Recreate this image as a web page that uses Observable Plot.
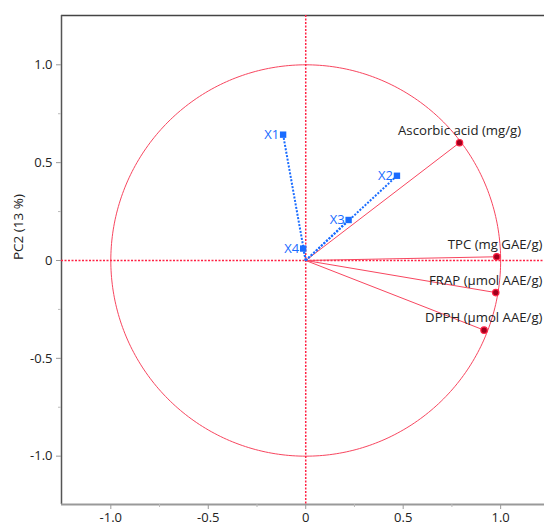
<!DOCTYPE html>
<html>
<head>
<meta charset="utf-8">
<script src="https://cdn.jsdelivr.net/npm/d3@7"></script>
<script src="https://cdn.jsdelivr.net/npm/@observablehq/plot@0.6"></script>
<style>
  body { margin: 0; background: #fff; }
  #chart { width: 544px; height: 525px; }
</style>
</head>
<body>
<div id="chart"></div>
<script>
// Response variables (loadings on PC1 / PC2)
const variables = ["Ascorbic acid (mg/g)", "TPC (mg GAE/g)", "FRAP (µmol AAE/g)", "DPPH (µmol AAE/g)"];
const varPC1 = [0.789, 0.980, 0.975, 0.915];
const varPC2 = [0.602, 0.019, -0.164, -0.356];

// Factors projected as supplementary variables
const factors = ["X1", "X2", "X3", "X4"];
const facPC1 = [-0.116, 0.468, 0.220, -0.013];
const facPC2 = [0.643, 0.433, 0.207, 0.061];

// Axis ticks
const majorTicks = [-1, -0.5, 0, 0.5, 1];
const minorTicks = [-0.75, -0.25, 0.25, 0.75];
const yTitle = "PC2 (13 %)";

const W = 544, H = 525;
const M = {left: 61, right: 0, top: 15, bottom: 21};
const xDomain = [-1.253, 1.225];
const yDomain = [-1.247, 1.252];
const FONT = "'Open Sans', sans-serif";
const LABEL_SIZE = 13.2;

const varRows = variables.map((name, i) => ({name, x: varPC1[i], y: varPC2[i]}));
const facRows = factors.map((name, i) => ({name, x: facPC1[i], y: facPC2[i]}));

// Unit correlation circle
const circle = d3.range(0, 361).map(a => ({x: Math.cos(a * Math.PI / 180), y: Math.sin(a * Math.PI / 180)}));

// Keep variable labels inside the right edge of the frame
const ctx = document.createElement("canvas").getContext("2d");
ctx.font = `${LABEL_SIZE}px ${FONT}`;
const pxPerUnit = (W - M.left - M.right) / (xDomain[1] - xDomain[0]);
const labelRows = varRows.map(d => {
  const half = ctx.measureText(d.name).width / 2;
  const maxX = xDomain[1] - (half + 2) / pxPerUnit;
  return {...d, lx: Math.min(d.x, maxX)};
});

const tick = d => d === 0 ? "0" : d.toFixed(1);
const red = "#f8465f";
const dotRed = "#ff2244";
const blue = "#1a6cff";

const chart = Plot.plot({
  width: W,
  height: H,
  marginLeft: M.left,
  marginRight: M.right,
  marginTop: M.top,
  marginBottom: M.bottom,
  style: {fontFamily: FONT, fontSize: "12px", background: "#fff", color: "#222"},
  x: {domain: xDomain},
  y: {domain: yDomain},
  marks: [
    // frame
    Plot.ruleY([yDomain[1]], {stroke: "#444", strokeWidth: 1.5}),
    Plot.ruleX([xDomain[0]], {stroke: "#555", strokeWidth: 1.5}),
    Plot.ruleY([yDomain[0]], {stroke: "#999", strokeWidth: 2}),
    // axes
    Plot.axisX(majorTicks, {tickFormat: tick, tickSize: 5, tickPadding: 3, stroke: "#999", fontSize: 13, label: null}),
    Plot.axisX(minorTicks, {tickFormat: () => "", tickSize: 3, stroke: "#bbb", label: null}),
    Plot.axisY(majorTicks, {tickFormat: tick, tickSize: 5, tickPadding: 4, stroke: "#999", fontSize: 13, label: null}),
    Plot.axisY(minorTicks, {tickFormat: () => "", tickSize: 3, stroke: "#bbb", label: null}),
    Plot.text([yTitle], {frameAnchor: "left", dx: -43, rotate: -90, fontSize: 13.5, fill: "#222"}),
    // correlation circle
    Plot.line(circle, {x: "x", y: "y", stroke: red, strokeWidth: 1}),
    // origin cross-hair
    Plot.ruleX([0], {stroke: dotRed, strokeWidth: 1.5, strokeDasharray: "2,1.5"}),
    Plot.ruleY([0], {stroke: dotRed, strokeWidth: 1.5, strokeDasharray: "2,1.5"}),
    // variable vectors
    Plot.link(varRows, {x1: () => 0, y1: () => 0, x2: "x", y2: "y", stroke: red, strokeWidth: 1}),
    Plot.dot(varRows, {x: "x", y: "y", r: 3.2, fill: "#a0001c", stroke: dotRed, strokeWidth: 1.2}),
    // factor vectors
    Plot.link(facRows, {x1: () => 0, y1: () => 0, x2: "x", y2: "y", stroke: blue, strokeWidth: 2, strokeDasharray: "2,1.5"}),
    Plot.dot(facRows, {x: "x", y: "y", symbol: "square", r: 3.6, fill: blue}),
    // labels
    Plot.text(labelRows, {x: "lx", y: "y", text: "name", dy: -12, fontSize: LABEL_SIZE, fill: "#222"}),
    Plot.text(facRows, {x: "x", y: "y", text: "name", textAnchor: "end", dx: -4, fontSize: 13, fill: blue})
  ]
});

document.getElementById("chart").append(chart);
</script>
</body>
</html>
